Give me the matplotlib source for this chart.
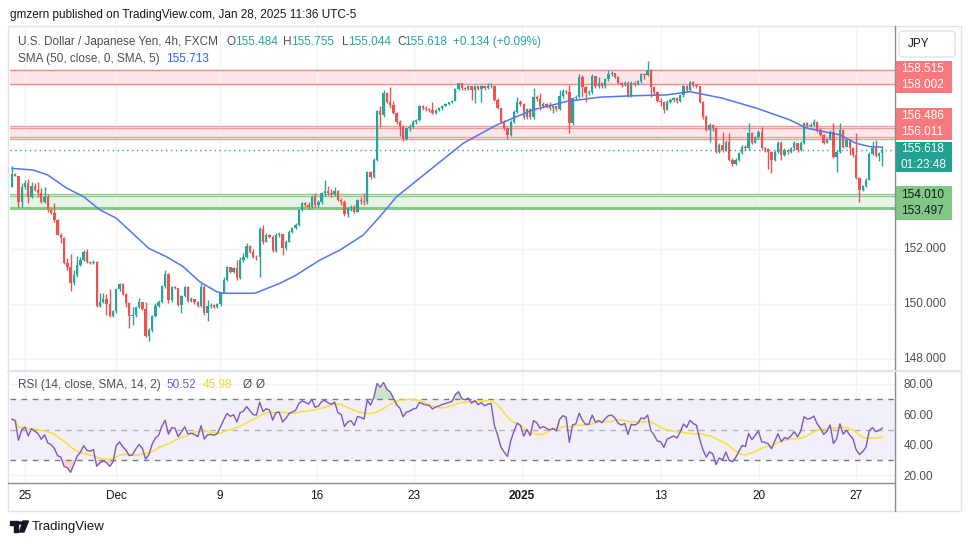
import numpy as np
import matplotlib
matplotlib.use('Agg')
import matplotlib.pyplot as plt
import matplotlib.transforms as mtransforms
from matplotlib.patches import Rectangle, FancyBboxPatch, Polygon, Circle
from matplotlib.lines import Line2D

# ---- data (USDJPY 4h candles) ----
first_open = 154.25
closes = [
    154.74, 154.68, 153.73, 154.25, 154.40, 153.91, 154.30, 154.16, 154.03, 153.70,
    153.91, 153.43, 153.31, 153.07, 152.52, 152.40, 151.49, 151.34, 150.76, 151.07,
    151.43, 151.61, 151.91, 151.55, 151.49, 151.55, 149.94, 150.10, 150.18, 150.01,
    149.59, 149.77, 150.54, 150.73, 150.36, 150.06, 149.59, 149.62, 149.89, 150.10,
    149.82, 148.86, 149.07, 149.59, 149.94, 150.10, 150.67, 151.09, 150.16, 150.62,
    150.59, 149.97, 150.30, 150.64, 150.13, 150.18, 150.10, 149.95, 150.62, 149.67,
    149.94, 149.97, 149.91, 150.01, 150.42, 150.88, 151.34, 151.19, 151.31, 150.94,
    151.61, 151.73, 152.10, 151.91,
    151.73, 151.71, 152.73, 152.28, 152.52, 152.46, 151.95, 152.52, 152.55, 152.04,
    152.28, 152.64, 152.76, 152.88, 153.43, 153.67, 153.61, 153.55, 153.91, 153.61,
    153.70, 154.04, 154.13, 154.04, 154.00, 154.13, 153.79, 153.73, 153.28, 153.49,
    153.55, 153.37, 153.79, 153.76, 153.70, 154.82, 154.64, 155.25, 157.04, 156.88,
    157.68, 157.37, 157.25, 156.97, 156.64, 156.46, 156.00, 156.40, 156.46, 156.64,
    156.70, 157.19, 157.13, 157.09, 157.07, 156.94, 157.07, 157.13, 157.22, 157.28,
    157.34, 157.40, 157.82, 158.03, 157.85, 157.82, 157.92, 157.80, 157.92, 157.83,
    157.92, 157.85, 157.92, 157.95, 157.43, 157.13, 156.64, 156.40, 156.16, 156.64,
    157.00, 157.37, 157.27, 156.80, 157.09, 156.80, 157.55, 157.45, 157.19, 157.28,
    157.19, 157.13, 157.19, 157.09, 157.58, 157.77, 157.72, 156.58, 157.49, 157.55,
    158.28, 157.91, 157.68, 157.70, 158.30, 157.92, 158.04, 157.92, 158.18, 158.37,
    158.40, 158.28, 158.06, 157.98, 158.06, 157.58, 158.06, 158.02, 158.10, 158.37,
    158.34, 158.52, 157.91, 157.70, 157.40, 157.37, 157.07, 157.37, 157.43, 157.49,
    157.40, 157.61, 157.92, 157.80, 158.09, 157.98, 157.92, 157.37, 156.82,
    156.34, 156.52, 156.40, 155.55, 155.79, 155.61, 155.91, 155.25, 155.10, 155.25,
    155.49, 155.73, 155.67, 156.22, 155.88, 156.07, 156.28, 155.67, 155.64, 155.55,
    155.25, 155.55, 155.88, 155.43, 155.61, 155.55, 155.67, 155.85, 155.61, 155.85,
    156.58, 156.48, 156.52, 156.64, 156.34, 156.16, 155.88, 156.00, 156.28, 155.35,
    155.55, 156.34, 155.73, 155.97, 155.67, 155.43, 154.58, 154.16, 154.30, 154.52,
    155.47, 155.67, 155.40, 155.484, 155.618,
]
highs = [
    155.03, 154.78, 154.37, 154.40, 154.50, 154.54, 154.46, 154.40, 154.46, 154.22,
    154.25, 154.00, 153.50, 153.67, 153.10, 152.58, 152.45, 151.67, 151.83, 151.25,
    151.76, 151.71, 151.97, 152.00, 151.58, 151.62, 151.58, 150.40, 150.40, 150.36,
    150.54, 149.80, 150.58, 150.76, 150.76, 150.42, 150.10, 149.91, 149.95, 150.24,
    150.06, 150.10, 149.12, 149.62, 150.06, 150.15, 150.70, 151.25, 151.12, 150.65,
    150.67, 150.60, 150.33, 150.67, 150.67, 150.25, 150.20, 150.12, 150.79, 150.70,
    150.16, 150.05, 150.00, 150.05, 150.45, 151.00, 151.40, 151.36, 151.35, 151.61,
    151.73, 151.85, 152.22, 152.16,
    152.00, 151.80, 152.80, 152.88, 152.60, 152.56, 152.50, 152.58, 152.62, 152.55,
    152.32, 152.70, 152.80, 152.94, 153.46, 153.70, 153.70, 153.73, 153.97, 154.04,
    153.80, 154.08, 154.50, 154.30, 154.20, 154.28, 154.15, 153.85, 153.80, 153.52,
    153.60, 153.60, 153.82, 153.90, 154.06, 154.85, 154.86, 155.30, 157.08, 157.20,
    157.79, 157.70, 157.91, 157.40, 156.98, 156.70, 156.50, 156.45, 156.55, 156.70,
    156.75, 157.25, 157.25, 157.20, 157.15, 157.37, 157.10, 157.16, 157.25, 157.31,
    157.37, 157.43, 157.85, 158.06, 158.05, 157.90, 157.98, 157.90, 157.98, 157.95,
    157.96, 157.92, 158.04, 158.06, 157.97, 157.50, 157.15, 156.70, 156.45, 156.70,
    157.06, 157.53, 157.42, 157.30, 157.12, 157.12, 157.85, 157.60, 157.67, 157.35,
    157.30, 157.37, 157.25, 157.22, 157.79, 157.82, 157.80, 157.98, 157.52, 157.62,
    158.36, 158.32, 157.95, 157.78, 158.36, 158.30, 158.25, 158.08, 158.22, 158.52,
    158.48, 158.42, 158.30, 158.08, 158.12, 158.10, 158.10, 158.10, 158.15, 158.42,
    158.40, 158.85, 158.55, 157.95, 157.75, 157.50, 157.40, 157.42, 157.50, 157.55,
    157.52, 157.66, 157.96, 157.96, 158.12, 158.10, 158.00, 157.95, 157.40,
    156.88, 156.58, 156.55, 156.45, 155.85, 156.28, 155.97, 156.22, 155.30, 155.30,
    155.55, 155.80, 155.80, 156.58, 156.25, 156.12, 156.35, 156.46, 155.72, 155.68,
    155.58, 155.60, 155.95, 155.92, 155.68, 155.66, 155.72, 155.92, 155.88, 155.92,
    156.64, 156.62, 156.60, 156.73, 156.66, 156.40, 156.20, 156.05, 156.32, 156.58,
    155.60, 156.58, 156.36, 156.05, 156.02, 155.70, 156.22, 154.62, 154.35, 154.58,
    155.52, 155.92, 155.98, 155.55, 155.755,
]
lows = [
    154.25, 154.66, 153.53, 153.55, 154.20, 153.67, 153.85, 154.10, 153.91, 153.67,
    153.68, 153.37, 153.28, 153.00, 152.50, 152.24, 151.46, 151.25, 150.50, 150.70,
    151.00, 151.40, 151.58, 151.50, 151.45, 151.45, 149.89, 149.91, 150.05, 149.61,
    149.55, 149.55, 149.70, 150.50, 150.32, 149.91, 149.13, 149.25, 149.55, 149.85,
    149.78, 148.82, 148.68, 149.00, 149.55, 149.90, 150.05, 150.60, 150.03, 150.10,
    150.55, 149.93, 149.70, 150.25, 150.08, 150.08, 150.00, 149.90, 149.90, 149.62,
    149.40, 149.88, 149.86, 149.88, 149.95, 150.40, 150.85, 151.15, 151.15, 150.90,
    150.92, 151.55, 151.70, 151.88,
    151.68, 151.60, 151.00, 152.20, 152.25, 152.40, 151.90, 151.90, 152.45, 151.80,
    151.98, 152.25, 152.60, 152.72, 152.85, 153.40, 153.55, 153.45, 153.50, 153.55,
    153.55, 153.65, 153.95, 153.98, 153.90, 153.95, 153.75, 153.60, 153.22, 153.18,
    153.40, 153.30, 153.35, 153.65, 153.62, 153.65, 154.55, 154.60, 155.20, 156.45,
    156.80, 157.30, 157.15, 156.90, 156.55, 156.10, 155.95, 155.98, 156.30, 156.40,
    156.55, 156.65, 157.05, 157.03, 157.00, 156.90, 156.90, 157.02, 157.08, 157.20,
    157.26, 157.32, 157.38, 157.80, 157.80, 157.78, 157.78, 157.42, 157.33, 157.78,
    157.36, 157.80, 157.82, 157.88, 157.40, 157.10, 156.60, 156.35, 156.00, 156.10,
    156.60, 156.95, 157.20, 156.72, 156.73, 156.72, 156.75, 157.38, 157.07, 157.15,
    157.12, 157.05, 156.95, 157.02, 157.05, 157.50, 157.65, 156.24, 156.50, 157.44,
    157.50, 157.53, 157.37, 157.60, 157.65, 157.85, 157.88, 157.85, 157.88, 158.10,
    158.30, 158.22, 158.00, 157.90, 157.92, 157.52, 157.55, 157.95, 157.98, 158.05,
    158.20, 158.30, 157.55, 157.62, 157.35, 157.20, 156.94, 157.05, 157.30, 157.35,
    157.32, 157.35, 157.55, 157.72, 157.75, 157.90, 157.85, 157.30, 156.75,
    156.30, 155.91, 156.30, 155.50, 155.49, 155.55, 155.58, 155.20, 155.03, 155.05,
    155.22, 155.45, 155.60, 155.62, 155.82, 155.85, 156.02, 155.60, 155.55, 154.91,
    154.79, 155.22, 155.50, 155.25, 155.38, 155.48, 155.50, 155.62, 155.55, 155.56,
    155.82, 156.40, 156.44, 156.48, 156.28, 156.10, 155.82, 155.85, 155.97, 155.30,
    154.82, 155.50, 155.68, 155.70, 155.43, 155.35, 154.55, 153.73, 154.10, 154.25,
    154.50, 155.42, 155.35, 155.20, 155.044,
]

# SMA(50) line read at a set of candle positions
sma_idx = [0, 6.5, 11, 16.8, 22, 27, 32, 37, 42, 47.4, 52.5, 57.6, 62.7, 64.8, 74.5,
           82.2, 87.3, 94.5, 100.6, 107.8, 112.9, 118, 128.2, 138.4, 148.7, 159.9,
           170, 180.4, 190.6, 200.8, 208, 218, 228.4, 238.7, 243.8, 248.9, 254, 259,
           263.2, 267]
sma_val = [154.94, 154.88, 154.70, 154.22, 153.91, 153.43, 153.13, 152.58, 152.03,
           151.73, 151.37, 150.82, 150.46, 150.40, 150.40, 150.76, 151.07, 151.61,
           151.97, 152.52, 153.19, 153.91, 154.88, 155.85, 156.52, 157.07, 157.37,
           157.53, 157.58, 157.61, 157.73, 157.49, 157.13, 156.70, 156.40, 156.28,
           156.16, 155.85, 155.73, 155.713]

date_pos = [4.0, 31.9, 63.8, 93.6, 123.3, 156.4, 199.1, 229.1, 258.9]
date_labels = ['25', 'Dec', '9', '16', '23', '2025', '13', '20', '27']

last_price = 155.618
red_zone_hi = [158.515, 158.002]
red_zone_mid = [156.486, 156.40, 156.08, 156.011]
green_zone = [154.010, 153.95, 153.497]

# ---- colours ----
UP = '#26a69a'
DN = '#ef5350'
TXT = '#4c4f57'
GRID = '#f0f3fa'

n = min(len(closes), len(highs), len(lows))
c = np.array(closes[:n])
o = np.concatenate([[first_open], c[:-1]])
hi = np.maximum(np.array(highs[:n]), np.maximum(o, c))
lo = np.minimum(np.array(lows[:n]), np.minimum(o, c))
idx = np.arange(n)
cols = np.where(c >= o, UP, DN)

# RSI 14 (Wilder) + SMA 14 of it
d = np.diff(np.concatenate([[first_open], c]))
au, ad = 0.12, 0.12
rsi = []
for v in d:
    au = (au * 13 + max(v, 0)) / 14
    ad = (ad * 13 + max(-v, 0)) / 14
    rsi.append(100 - 100 / (1 + au / ad))
rsi = np.array(rsi)
rsi_ma = np.array([rsi[max(0, i - 13):i + 1].mean() for i in range(n)])

plt.rcParams['font.family'] = ['Liberation Sans', 'DejaVu Sans']
W, H = 970, 545
fig = plt.figure(figsize=(W / 100, H / 100), dpi=100)


def fx(px):
    return px / W


def fy(py):
    return 1 - py / H


ax = fig.add_axes([fx(10), fy(370), fx(895) - fx(10), fy(27) - fy(370)])
axr = fig.add_axes([fx(10), fy(482), fx(895) - fx(10), fy(372) - fy(482)], sharex=ax)

# ---- price pane ----
ax.set_xlim(-0.6, 270.9)
ax.set_ylim(147.61, 160.08)
ax.set_yticks([148, 150, 152, 154, 156, 158])
ax.set_xticks(date_pos)
ax.grid(True, color=GRID, lw=1)
ax.tick_params(length=0, labelbottom=False, labelleft=False)
for s in ax.spines.values():
    s.set_visible(False)

ax.axhspan(red_zone_hi[1], red_zone_hi[0], color='#fde6e7', zorder=1)
for v in red_zone_hi:
    ax.axhline(v, color='#f28b8e', lw=1.0, zorder=2)
ax.axhspan(red_zone_mid[-1], red_zone_mid[0], color='#fde6e7', zorder=1)
for v in red_zone_mid:
    ax.axhline(v, color='#f4999c', lw=0.9, zorder=2)
ax.axhspan(green_zone[-1], green_zone[0], color='#e6f4e5', zorder=1)
for v in green_zone[:-1]:
    ax.axhline(v, color='#8fcb8f', lw=0.9, zorder=2)
ax.axhline(green_zone[-1], color='#86c886', lw=2.2, zorder=2)

ax.axhline(last_price, color=UP, lw=1, ls=(0, (1, 2.5)), zorder=3)

ax.vlines(idx, lo, hi, colors=cols, lw=1, zorder=4)
ax.bar(idx, np.maximum(np.abs(c - o), 0.025), bottom=np.minimum(o, c), width=0.72,
       color=cols, linewidth=0, zorder=5)
ax.plot(sma_idx, sma_val, color='#5277f2', lw=1.1, zorder=6)

# ---- RSI pane ----
axr.set_ylim(15.4, 87.9)
axr.set_yticks([20, 40, 60, 80])
axr.set_yticklabels(['20.00', '40.00', '60.00', '80.00'])
axr.grid(True, color=GRID, lw=1)
axr.yaxis.tick_right()
axr.tick_params(axis='y', length=0, pad=6, labelsize=8.5, labelcolor=TXT)
axr.set_xticks(date_pos)
axr.set_xticklabels(date_labels)
axr.tick_params(axis='x', length=0, pad=6, labelsize=8.5, labelcolor='#131722')
for t in axr.get_xticklabels():
    if t.get_text() == '2025':
        t.set_fontweight('bold')
for s in axr.spines.values():
    s.set_visible(False)
axr.axhspan(30, 70, color='#7e57c2', alpha=0.09, lw=0)
for v in (70, 50, 30):
    axr.axhline(v, color='#787b86', lw=1, ls=(0, (4, 4)),
                alpha=1 if v != 50 else 0.55)
axr.fill_between(idx, 70, rsi, where=rsi > 70, color='#66bb6a', alpha=0.35,
                 interpolate=True, lw=0)
axr.fill_between(idx, 30, rsi, where=rsi < 30, color='#ef5350', alpha=0.25,
                 interpolate=True, lw=0)
axr.plot(idx, rsi_ma, color='#f5e13a', lw=1.1)
axr.plot(idx, rsi, color='#7e57c2', lw=1)

# ---- price scale labels ----
tr = mtransforms.blended_transform_factory(ax.transAxes, ax.transData)
for p in (152, 150, 148):
    ax.text(1.009, p, '%.3f' % p, transform=tr, va='center', ha='left',
            fontsize=8.5, color=TXT, clip_on=False)


def tag(y0, y1, color, lines, tcolor='white'):
    fig.add_artist(Rectangle((fx(895), fy(y1)), fx(952) - fx(895), fy(y0) - fy(y1),
                             transform=fig.transFigure, color=color, lw=0))
    k = len(lines)
    for j, s in enumerate(lines):
        yy = y0 + (y1 - y0) * (j + 0.5) / k
        fig.text(fx(901), fy(yy), s, ha='left', va='center', fontsize=8.5,
                 color=tcolor)


tag(61, 93, '#f7797d', ['158.515', '158.002'])
tag(108, 140, '#f7797d', ['156.486', '156.011'])
tag(142, 172, '#22a190', ['155.618', '01:23:48'])
tag(186, 220, '#80c883', ['154.010', '153.497'], tcolor='#131722')

fig.add_artist(FancyBboxPatch((fx(899), fy(57)), fx(955) - fx(899), fy(31) - fy(57),
                              boxstyle='round,pad=0,rounding_size=0.006',
                              transform=fig.transFigure, fc='white', ec='#e0e3eb', lw=1))
fig.text(fx(908), fy(44), 'JPY', ha='left', va='center', fontsize=8.5, color='#131722')

# ---- frame lines ----
fig.add_artist(Rectangle((fx(8), fy(511)), fx(961) - fx(8), fy(26) - fy(511),
                         transform=fig.transFigure, fill=False, ec='#e0e3eb', lw=1))
fig.add_artist(Line2D([fx(895), fx(895)], [fy(26), fy(511)], color='#8a8d96', lw=1))
fig.add_artist(Line2D([fx(8), fx(895)], [fy(482.5), fy(482.5)], color='#8a8d96', lw=1))
fig.add_artist(Line2D([fx(8), fx(961)], [fy(371), fy(371)], color='#e0e3eb', lw=1.5))

# ---- legends ----
fs = 8.5
fig.text(fx(10), fy(15), 'gmzern published on TradingView.com, Jan 28, 2025 11:36 UTC-5',
         fontsize=8.5, color='#131722', va='center')
fig.text(fx(18), fy(42), 'U.S. Dollar / Japanese Yen, 4h, FXCM', fontsize=fs, color=TXT,
         va='center')
for lab, val, x0, x1 in (('O', '155.484', 227, 235), ('H', '155.755', 283, 291),
                         ('L', '155.044', 342, 348), ('C', '155.618', 397, 404)):
    fig.text(fx(x0), fy(42), lab, fontsize=fs, color=TXT, va='center')
    fig.text(fx(x1), fy(42), val, fontsize=fs, color=UP, va='center')
fig.text(fx(453), fy(42), '+0.134 (+0.09%)', fontsize=fs, color=UP, va='center')
fig.text(fx(18), fy(59), 'SMA (50, close, 0, SMA, 5)', fontsize=fs, color=TXT, va='center')
fig.text(fx(166), fy(59), '155.713', fontsize=fs, color='#2962ff', va='center')

fig.text(fx(18), fy(385), 'RSI (14, close, SMA, 14, 2)', fontsize=fs, color=TXT, va='center')
fig.text(fx(166), fy(385), '50.52', fontsize=fs, color='#7e57c2', va='center')
fig.text(fx(203), fy(385), '45.98', fontsize=fs, color='#f2d930', va='center')
fig.text(fx(243), fy(385), 'Ø', fontsize=fs, color=TXT, va='center')
fig.text(fx(256), fy(385), 'Ø', fontsize=fs, color=TXT, va='center')

# ---- TradingView logo ----
fig.add_artist(Polygon([(fx(10), fy(521)), (fx(18), fy(521)), (fx(18), fy(532)),
                        (fx(14.5), fy(532)), (fx(14.5), fy(524.5)), (fx(10), fy(524.5))],
                       closed=True, transform=fig.transFigure, color='#131722'))
fig.add_artist(Circle((fx(20.5), fy(523)), 1.8 / W, transform=fig.transFigure,
                      color='#131722'))
fig.add_artist(Polygon([(fx(23), fy(521)), (fx(28.5), fy(521)), (fx(24), fy(532)),
                        (fx(19.5), fy(532))],
                       closed=True, transform=fig.transFigure, color='#131722'))
fig.text(fx(32), fy(527), 'TradingView', fontsize=9.5, color='#131722', va='center')

fig.savefig('out.png', dpi=100)
